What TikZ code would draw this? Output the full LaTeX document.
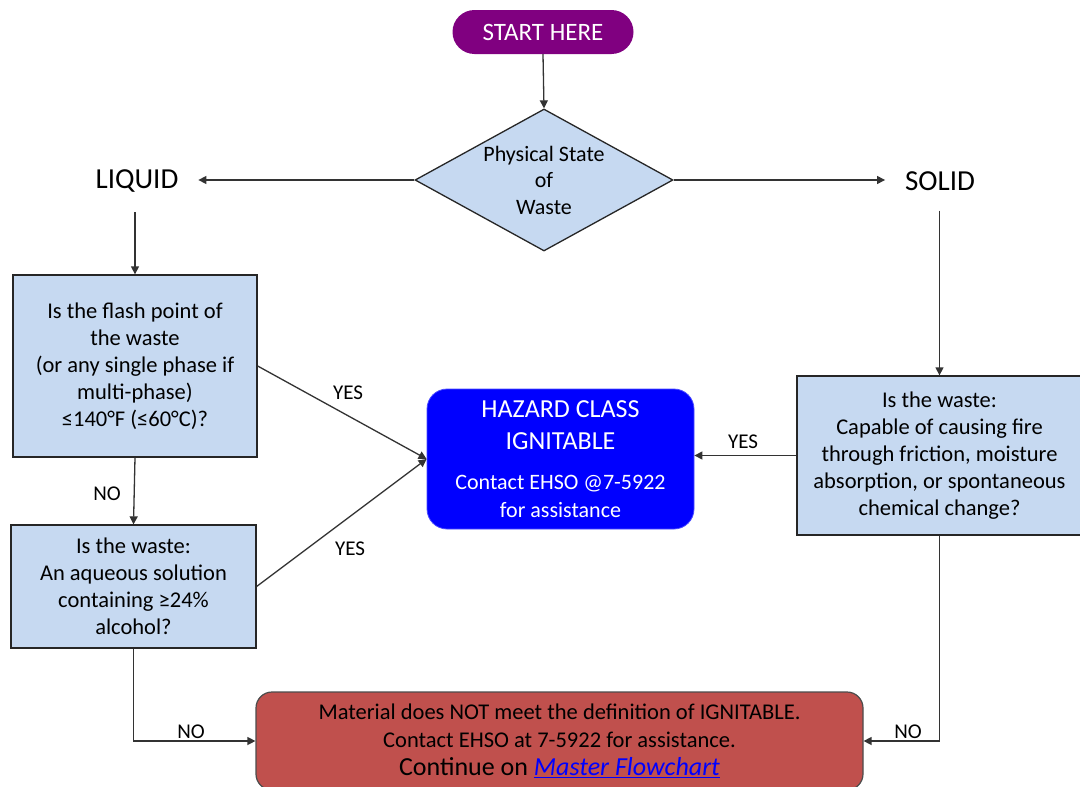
\documentclass[tikz,border=0pt]{standalone}
\usepackage{fontspec}
\setmainfont{Carlito}
\usetikzlibrary{shapes.geometric,arrows.meta}
\definecolor{qblue}{HTML}{C6D9F1}
\definecolor{startpurple}{HTML}{800080}
\definecolor{hazblue}{HTML}{0000FF}
\definecolor{stopred}{HTML}{C0504D}
\definecolor{linegray}{HTML}{333333}
\begin{document}
\begin{tikzpicture}[x=1pt,y=-1pt,
  qbox/.style={draw=black!85, line width=1.3pt, fill=qblue, align=center,
    inner sep=0pt, font=\fontsize{22.5}{27}\selectfont},
  arr/.style={draw=linegray, line width=1.3pt, -{Triangle[length=8pt,width=8pt]}},
  lbl/.style={font=\fontsize{21}{24}\selectfont, inner sep=0pt},
  state/.style={font=\fontsize{29}{32}\selectfont, inner sep=0pt, outer sep=20pt}]
\clip (0,0) rectangle (1080,787);
\fill[white] (0,0) rectangle (1080,787);

% start terminal and first decision
\node[fill=startpurple, text=white, rounded corners=22pt, minimum width=181pt,
  minimum height=44pt, font=\fontsize{25}{28}\selectfont] (start) at (543,32) {START HERE};
\node[diamond, aspect=1.82, draw=black!85, line width=1.3pt, fill=qblue, inner sep=-2pt,
  minimum width=258pt, minimum height=142pt,
  align=center, font=\fontsize{22}{26.5}\selectfont] (dec) at (544,180) {Physical State\\of\\Waste};

% state labels
\node[state] (liq) at (137,181) {LIQUID};
\node[state] (sol) at (940,181) {SOLID};

% question boxes
\node[qbox, minimum width=244pt, minimum height=182pt] (b1) at (135,366)
  {Is the flash point of\\the waste\\(or any single phase if\\multi-phase)\\≤140°F (≤60°C)?};
\node[qbox, minimum width=245pt, minimum height=123pt] (b2) at (133.5,586.5)
  {Is the waste:\\An aqueous solution\\containing ≥24\%\\alcohol?};
\node[qbox, minimum width=285pt, minimum height=159pt] (b3) at (939.5,455.5)
  {Is the waste:\\Capable of causing fire\\through friction, moisture\\absorption, or spontaneous\\chemical change?};

% outcomes
\node[fill=hazblue, draw=hazblue!70!white, line width=0.8pt, rounded corners=20pt, text=white,
  minimum width=267pt, minimum height=140pt, align=center, inner sep=0pt,
  font=\fontsize{22}{28}\selectfont] (hz) at (560.5,459)
  {{\fontsize{26}{32}\selectfont HAZARD CLASS}\\[4pt]{\fontsize{26}{32}\selectfont IGNITABLE}\\[12pt]
   Contact EHSO @7-5922\\for assistance};
\node[fill=stopred, draw=black!70, line width=1.2pt, rounded corners=16pt,
  minimum width=607pt, minimum height=98pt, align=center, inner sep=0pt,
  font=\fontsize{22.5}{28}\selectfont] (red) at (559.5,741)
  {Material does NOT meet the definition of IGNITABLE.\\
   Contact EHSO at 7-5922 for assistance.\\
   {\fontsize{26}{28}\selectfont Continue on \textcolor{hazblue}{\underline{\textit{Master Flowchart}}}}};

% connectors
\draw[arr] (start.south) -- (dec.north);
\draw[arr] (dec.west) -- (dec.west -| liq.east);
\draw[arr] (dec.east) -- (dec.east -| sol.west);
\draw[arr] (liq.south -| b1.north) -- (b1.north);
\draw[arr] (sol.south -| b3.north) -- (b3.north);
\draw[arr] (b1.south) -- (b2.north);
\draw[arr] (b1.east) -- (hz.west);
\draw[arr] (b2.east) -- (hz.west);
\draw[arr] (b3.west) -- (b3.west -| hz.east);
\draw[arr] (b2.south) |- (red.west);
\draw[arr] (b3.south) |- (red.east);

% connector labels
\node[lbl] (yes1) at (348,393) {YES};
\node[lbl] (yes2) at (350,549) {YES};
\node[lbl] (yes3) at (743,442) {YES};
\node[lbl] (no1) at (107,494) {NO};
\node[lbl] (no2) at (191,732) {NO};
\node[lbl] (no3) at (908,732) {NO};
\end{tikzpicture}
\end{document}
